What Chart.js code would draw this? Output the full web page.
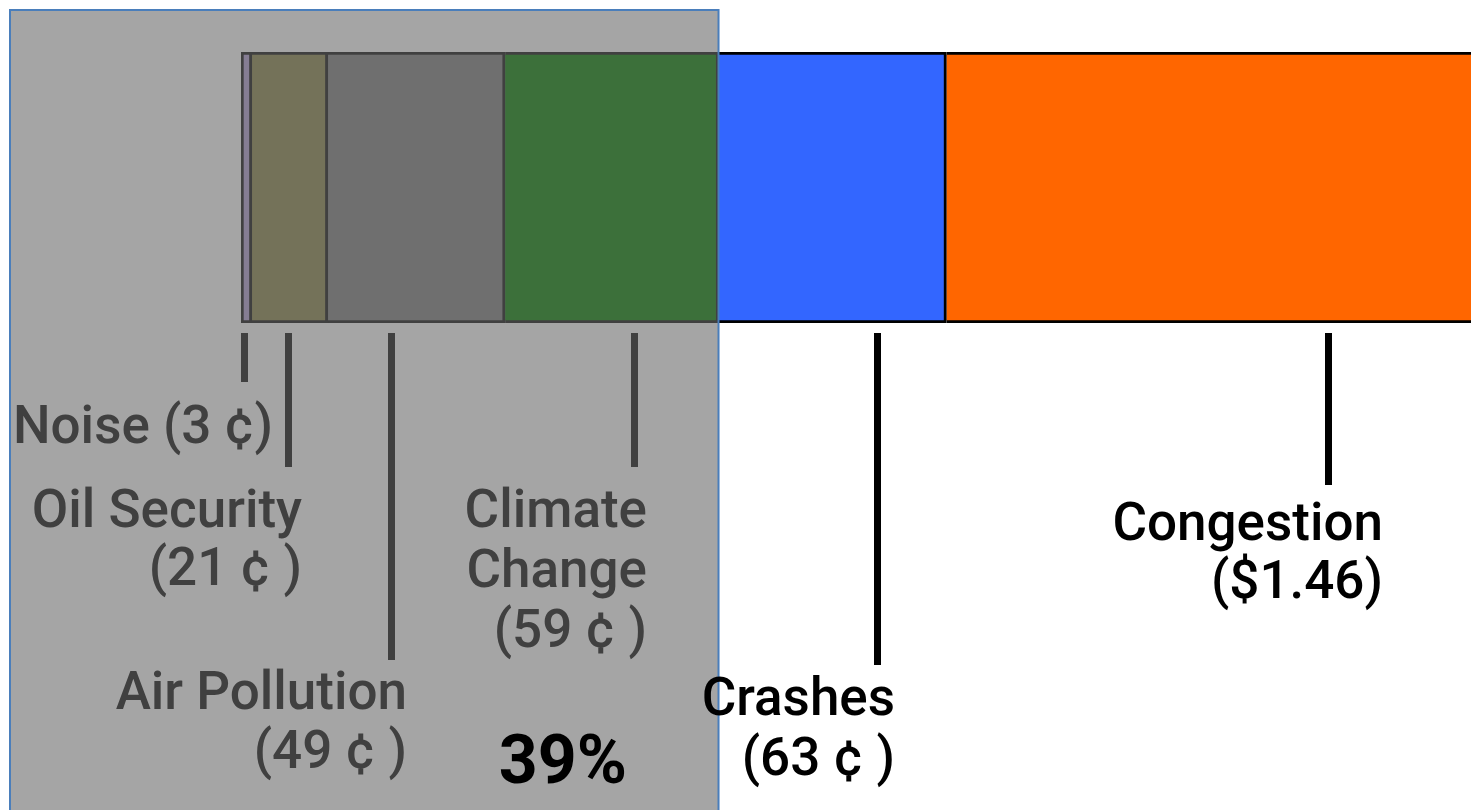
<!DOCTYPE html>
<html>
<head>
<meta charset="utf-8">
<script src="https://cdn.jsdelivr.net/npm/chart.js@4/dist/chart.umd.min.js"></script>
<style>
  html, body { margin: 0; padding: 0; background: #fff; }
  #wrap { width: 1471px; height: 810px; position: relative; }
</style>
</head>
<body>
<div id="wrap"><canvas id="myChart"></canvas></div>
<script>
// external costs per mile, in cents
const categories = ['Noise', 'Oil Security', 'Air Pollution', 'Climate Change', 'Crashes', 'Congestion'];
const cents = [3, 21, 49, 59, 63, 146];
const labelText = [
    ['Noise (3 \u00a2)'],
    ['Oil Security', '(21 \u00a2 )'],
    ['Air Pollution', '(49 \u00a2 )'],
    ['Climate', 'Change', '(59 \u00a2 )'],
    ['Crashes', '(63 \u00a2 )'],
    ['Congestion', '($1.46)']
];
const colors = ['#857d93', '#747259', '#6f6f6f', '#3c703a', '#3366ff', '#ff6600'];
// the shaded group: first four categories
const shadedCount = 4;

// leader line / label layout (position inside segment, line bottom, label offsets)
const labelLayout = [
    {frac: 0.37, lineEnd: 382, dx: 28, base: [443]},
    {frac: 0.49, lineEnd: 467, dx: 13, base: [527, 585]},
    {frac: 0.36, lineEnd: 660, dx: 15, base: [709, 768]},
    {frac: 0.61, lineEnd: 467, dx: 12, base: [527, 587, 647]},
    {frac: 0.70, lineEnd: 665, dx: 17, base: [715, 775]},
    {frac: 0.73, lineEnd: 485, dx: 54, base: [540, 598]}
];

const total = cents.reduce((a, b) => a + b, 0);
const shadedTotal = cents.slice(0, shadedCount).reduce((a, b) => a + b, 0);

const annotations = {
    id: 'annotations',
    beforeDatasetsDraw(chart) {
        const ctx = chart.ctx;
        const x = chart.scales.x;
        const right = x.getPixelForValue(shadedTotal);
        ctx.save();
        ctx.fillStyle = '#a5a5a5';
        ctx.fillRect(10, 10, right - 10, chart.height);
        ctx.restore();
    },
    afterDatasetsDraw(chart) {
        const ctx = chart.ctx;
        const x = chart.scales.x;
        const area = chart.chartArea;
        const right = x.getPixelForValue(shadedTotal);
        ctx.save();
        // box border
        ctx.strokeStyle = '#4a7ebb';
        ctx.lineWidth = 2;
        ctx.strokeRect(10, 10, right - 10, chart.height + 10);

        let start = 0;
        let climateX = 0;
        cents.forEach((v, i) => {
            const lay = labelLayout[i];
            let x0 = x.getPixelForValue(start);
            let x1 = x.getPixelForValue(start + v);
            if (x1 > area.right) x1 = area.right;
            const lx = Math.round(x0 + (x1 - x0) * lay.frac);
            if (i === shadedCount - 1) climateX = lx;
            const inside = i < shadedCount;
            const col = inside ? '#404040' : '#000000';
            ctx.fillStyle = col;
            ctx.fillRect(lx - 4, area.bottom + 10, 7, lay.lineEnd - area.bottom - 10);

            ctx.font = '500 53px Roboto';
            ctx.textAlign = 'right';
            ctx.textBaseline = 'alphabetic';
            labelText[i].forEach((t, k) => {
                ctx.fillText(t, lx + lay.dx, lay.base[k]);
            });
            start += v;
        });

        ctx.font = 'bold 68px Roboto';
        ctx.fillStyle = '#000';
        ctx.textAlign = 'right';
        ctx.fillText(Math.round(shadedTotal / total * 100) + '%', climateX - 8, 783);
        ctx.restore();
    }
};

const ctx = document.getElementById('myChart').getContext('2d');
const myChart = new Chart(ctx, {
    type: 'bar',
    data: {
        labels: ['Cost'],
        datasets: categories.map((c, i) => ({
            label: c,
            data: [cents[i]],
            backgroundColor: colors[i],
            borderColor: i < shadedCount ? '#404040' : '#000000',
            borderWidth: 3,
            borderSkipped: i === 0 ? false : 'start',
            barPercentage: 1,
            categoryPercentage: 1
        }))
    },
    plugins: [annotations],
    options: {
        indexAxis: 'y',
        responsive: true,
        maintainAspectRatio: false,
        animation: false,
        layout: {padding: {left: 241, right: 0, top: 52, bottom: 487}},
        scales: {
            x: {stacked: true, display: false, min: 0, max: 340},
            y: {stacked: true, display: false}
        },
        plugins: {
            legend: {display: false},
            tooltip: {enabled: false}
        }
    }
});
</script>
</body>
</html>
